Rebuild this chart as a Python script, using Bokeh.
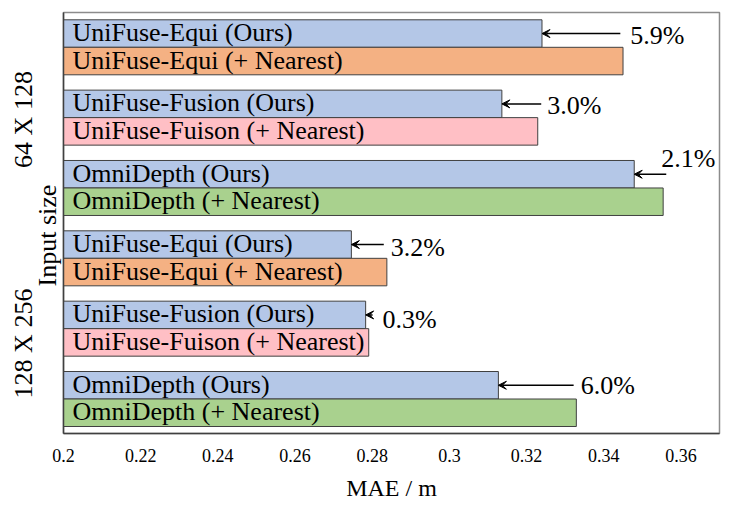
from bokeh.plotting import figure
from bokeh.models import (ColumnDataSource, Range1d, FixedTicker, Arrow, VeeHead,
                          LinearAxis)
from bokeh.core.properties import value
from bokeh.embed import file_html
from bokeh.resources import INLINE

# ---------------- data ----------------
groups = ["64 X 128", "128 X 256"]
methods = ["UniFuse-Equi (Ours)", "UniFuse-Equi (+ Nearest)",
           "UniFuse-Fusion (Ours)", "UniFuse-Fuison (+ Nearest)",
           "OmniDepth (Ours)", "OmniDepth (+ Nearest)"]
mae_64x128 = [0.324, 0.345, 0.3136, 0.3229, 0.3479, 0.3554]
mae_128x256 = [0.2746, 0.2838, 0.2783, 0.2791, 0.3127, 0.3329]
gains = ["5.9%", "3.0%", "2.1%", "3.2%", "0.3%", "6.0%"]
x_ticks = [0.2, 0.22, 0.24, 0.26, 0.28, 0.3, 0.32, 0.34, 0.36]
x_tick_labels = ["0.2", "0.22", "0.24", "0.26", "0.28", "0.3", "0.32", "0.34", "0.36"]
y_title = "Input size"

# ---------------- styles / layout ----------------
FONT = "Liberation Serif"
bar_colors = ["#B4C7E7", "#F4B183", "#B4C7E7", "#FFBFC5", "#B4C7E7", "#A9D18E"]
BAR_H = 27.5          # px (y range is expressed in frame pixels)
PAIR_STEP = 70.34
TOP_PAD = 7.3
FRAME_H = 421
TOTAL_H = 511
TOTAL_W = 739
# arrow tail (where the percentage text starts), in x data units
arrow_tail = [0.3443, 0.3238, 0.3562, 0.2830, 0.2801, 0.3322]
gain_dx = [10, 6, -5, 7, 10, 7]       # px
gain_dy = [1.5, 1.5, -15.5, 3.0, 5.0, 0.5]  # px
group_label_y = [107, 331]   # frame px
title_y = 223

all_mae = mae_64x128 + mae_128x256
all_methods = methods * len(groups)
all_colors = bar_colors * len(groups)
n = len(all_mae)
ycent = [TOP_PAD + (k // 2) * PAIR_STEP + (k % 2) * BAR_H + BAR_H / 2 for k in range(n)]

x0 = x_ticks[0]
bars = ColumnDataSource(dict(y=ycent, right=all_mae, color=all_colors, name=all_methods,
                             ty=[v - 1.0 for v in ycent]))

p = figure(width=TOTAL_W, height=TOTAL_H, x_range=Range1d(x0, 0.37),
           y_range=Range1d(FRAME_H, 0),
           output_backend="svg", toolbar_location=None,
           min_border_left=63, min_border_right=20, min_border_top=12,
           min_border_bottom=TOTAL_H - 12 - FRAME_H)
p.xgrid.visible = False
p.ygrid.visible = False
p.outline_line_color = "#8c8c8c"
p.outline_line_width = 1.5
p.background_fill_color = "white"
p.border_fill_color = "white"

p.hbar(y="y", left=x0, right="right", height=BAR_H, fill_color="color",
       line_color="#404040", line_width=1, source=bars)
p.text(x=x0, y="ty", text="name", source=bars, x_offset=9,
       text_font=value(FONT), text_font_size="26px", text_baseline="middle",
       text_align="left", text_color="black")

# arrows + gain text
ours_idx = [k for k in range(n) if k % 2 == 0]
arr = ColumnDataSource(dict(
    xs=arrow_tail, xe=[all_mae[k] for k in ours_idx], ay=[ycent[k] for k in ours_idx],
    ty=[ycent[k] + d for k, d in zip(ours_idx, gain_dy)], txt=gains,
    dx=gain_dx))
p.add_layout(Arrow(end=VeeHead(size=8, fill_color="black", line_color="black", line_width=1),
                   x_start="xs", y_start="ay", x_end="xe", y_end="ay",
                   line_color="black", line_width=1.5, source=arr))
p.text(x="xs", y="ty", text="txt", x_offset="dx", source=arr,
       text_font=value(FONT), text_font_size="26px", text_baseline="middle",
       text_align="left", text_color="black")

# x axis
xa = p.xaxis[0]
xa.ticker = FixedTicker(ticks=x_ticks)
xa.major_label_overrides = {t: s for t, s in zip(x_ticks, x_tick_labels)}
xa.major_tick_line_color = None
xa.minor_tick_line_color = None
xa.major_tick_out = 0
xa.major_label_standoff = 15
xa.major_label_text_font = FONT
xa.major_label_text_font_size = "18px"
xa.major_label_text_color = "black"
xa.axis_line_color = "#404040"
xa.axis_line_width = 1.5
xa.axis_label = "MAE / m"
xa.axis_label_text_font = FONT
xa.axis_label_text_font_size = "24px"
xa.axis_label_text_font_style = "normal"
xa.axis_label_text_color = "black"
xa.axis_label_standoff = 10


def style_left(ax, ticks, texts, standoff, line):
    ax.ticker = FixedTicker(ticks=ticks)
    ax.major_label_overrides = {t: s for t, s in zip(ticks, texts)}
    ax.major_label_orientation = "vertical"
    ax.major_tick_line_color = None
    ax.minor_tick_line_color = None
    ax.major_tick_out = 0
    ax.major_tick_in = 0
    ax.major_label_standoff = standoff
    ax.major_label_text_font = FONT
    ax.major_label_text_font_size = "26px"
    ax.major_label_text_color = "black"
    ax.axis_line_color = "#404040" if line else None
    ax.axis_line_width = 1.5


# inner left axis: y title; outer left axis: input-size groups
style_left(p.yaxis[0], [title_y], [y_title], 2, True)
outer = LinearAxis()
style_left(outer, group_label_y, groups, -8, False)
p.add_layout(outer, "left")

open("out.html", "w").write(file_html(p, INLINE))
